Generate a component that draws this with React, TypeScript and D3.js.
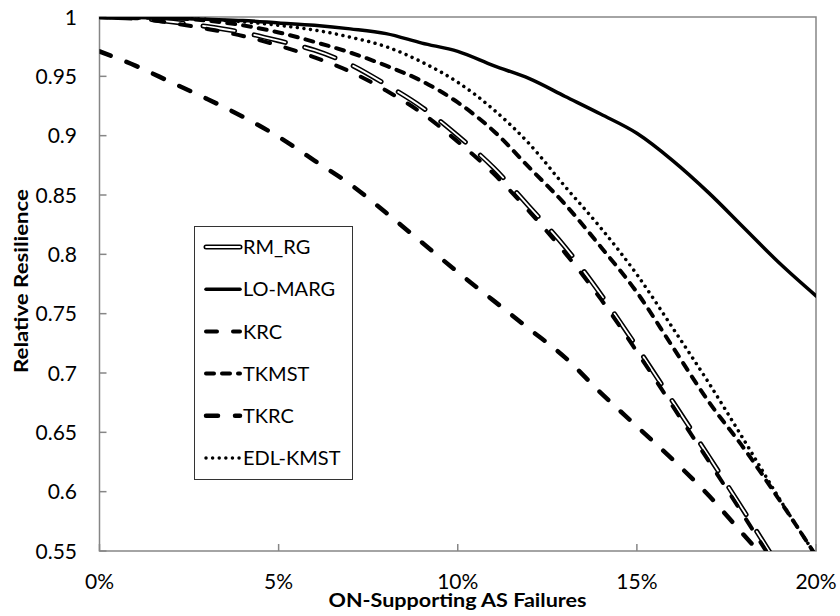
import { useEffect, useRef } from "react";
import * as d3 from "d3";

// failure share in percent
const failurePct = [0, 1, 2, 3, 4, 5, 6, 7, 8, 9, 10, 11, 12, 13, 14, 15, 16, 17, 18, 19, 20];

const rmRg = [1.0, 0.999, 0.996, 0.992, 0.987, 0.98, 0.972, 0.96, 0.943, 0.924, 0.9, 0.873, 0.84, 0.806, 0.766, 0.722, 0.676, 0.63, 0.583, 0.535];
const loMarg = [1.0, 0.9995, 0.999, 0.998, 0.997, 0.995, 0.993, 0.99, 0.986, 0.978, 0.971, 0.959, 0.948, 0.933, 0.918, 0.902, 0.879, 0.852, 0.822, 0.792, 0.765];
const krc = [1.0, 0.999, 0.995, 0.99, 0.984, 0.976, 0.966, 0.954, 0.938, 0.919, 0.895, 0.868, 0.836, 0.801, 0.762, 0.718, 0.672, 0.626, 0.579, 0.531];
const tkmst = [1.0, 0.9995, 0.999, 0.997, 0.993, 0.987, 0.979, 0.97, 0.959, 0.946, 0.928, 0.904, 0.873, 0.842, 0.806, 0.768, 0.722, 0.676, 0.636, 0.592, 0.546];
const tkrc = [0.971, 0.959, 0.945, 0.931, 0.916, 0.899, 0.879, 0.859, 0.835, 0.81, 0.785, 0.761, 0.737, 0.713, 0.683, 0.655, 0.627, 0.597, 0.563, 0.53];
const edlKmst = [1.0, 1.0, 0.9995, 0.998, 0.996, 0.993, 0.989, 0.983, 0.975, 0.962, 0.945, 0.922, 0.893, 0.857, 0.822, 0.783, 0.738, 0.692, 0.643, 0.593, 0.546];

const seriesNames = ["RM_RG", "LO-MARG", "KRC", "TKMST", "TKRC", "EDL-KMST"];
const seriesValues = [rmRg, loMarg, krc, tkmst, tkrc, edlKmst];

const yTicks = [0.55, 0.6, 0.65, 0.7, 0.75, 0.8, 0.85, 0.9, 0.95, 1];
const xTicks = [0, 5, 10, 15, 20];

// line looks, same order as seriesNames
const looks = [
  { w: 5, dash: "32,20", double: true },
  { w: 3.5, dash: null, double: false },
  { w: 4, dash: "11,16", double: false },
  { w: 4, dash: "8,8", double: false },
  { w: 4.5, dash: "12,17", double: false },
  { w: 3.5, dash: "0.01,6.6", double: false },
];

const FONT = "Lato, 'Open Sans', sans-serif";

export default function App() {
  const svgRef = useRef<SVGSVGElement>(null);

  useEffect(() => {
    if (!svgRef.current) return;
    const svg = d3.select(svgRef.current);
    svg.selectAll("*").remove();

    const left = 99.5, right = 816, top = 17, bottom = 551;
    const x = d3.scaleLinear().domain([0, 20]).range([left, right]);
    const y = d3.scaleLinear().domain([0.55, 1]).range([bottom, top]);

    svg.append("clipPath").attr("id", "plot")
      .append("rect").attr("x", left).attr("y", top)
      .attr("width", right - left).attr("height", bottom - top);

    // frame
    svg.append("rect")
      .attr("x", left).attr("y", top)
      .attr("width", right - left).attr("height", bottom - top)
      .attr("fill", "none").attr("stroke", "#868686").attr("stroke-width", 1.5);

    svg.selectAll(".ytick").data(yTicks).join("line")
      .attr("x1", left).attr("x2", left + 7)
      .attr("y1", (d) => y(d)).attr("y2", (d) => y(d))
      .attr("stroke", "#868686").attr("stroke-width", 1.5);

    svg.selectAll(".ylab").data(yTicks).join("text")
      .attr("x", 77).attr("y", (d) => y(d))
      .attr("dy", "0.36em")
      .attr("text-anchor", "end")
      .attr("font-family", FONT).attr("font-size", 21)
      .text((d) => String(d));

    svg.selectAll(".xtick").data(xTicks).join("line")
      .attr("x1", (d) => x(d)).attr("x2", (d) => x(d))
      .attr("y1", bottom).attr("y2", bottom - 7)
      .attr("stroke", "#868686").attr("stroke-width", 1.5);

    svg.selectAll(".xlab").data(xTicks).join("text")
      .attr("x", (d) => x(d)).attr("y", 589)
      .attr("text-anchor", "middle")
      .attr("font-family", FONT).attr("font-size", 21)
      .text((d) => d + "%");

    svg.append("text")
      .attr("x", 457.5).attr("y", 607)
      .attr("text-anchor", "middle")
      .attr("font-family", FONT).attr("font-size", 19).attr("font-weight", "bold")
      .attr("textLength", 258).attr("lengthAdjust", "spacingAndGlyphs")
      .text("ON-Supporting AS Failures");

    svg.append("text")
      .attr("transform", "translate(28,281) rotate(-90)")
      .attr("text-anchor", "middle")
      .attr("font-family", FONT).attr("font-size", 19).attr("font-weight", "bold")
      .attr("textLength", 184).attr("lengthAdjust", "spacingAndGlyphs")
      .text("Relative Resilience");

    const line = d3.line<number>()
      .x((_, i) => x(failurePct[i]))
      .y((d) => y(d))
      .curve(d3.curveMonotoneX);

    const g = svg.append("g").attr("clip-path", "url(#plot)");
    seriesValues.forEach((vals, i) => {
      const lk = looks[i];
      const p = g.append("path")
        .attr("d", line(vals))
        .attr("fill", "none").attr("stroke", "#000")
        .attr("stroke-width", lk.w)
        .attr("stroke-linecap", "round").attr("stroke-linejoin", "round");
      if (lk.dash) p.attr("stroke-dasharray", lk.dash);
      if (lk.double) {
        g.append("path")
          .attr("d", line(vals))
          .attr("fill", "none").attr("stroke", "#fff")
          .attr("stroke-width", 1.8)
          .attr("stroke-linecap", "round").attr("stroke-linejoin", "round")
          .attr("stroke-dasharray", lk.dash);
      }
    });

    // legend
    const lg = svg.append("g");
    lg.append("rect")
      .attr("x", 194.5).attr("y", 226.5).attr("width", 158).attr("height", 253)
      .attr("fill", "#fff").attr("stroke", "#333").attr("stroke-width", 1);
    seriesNames.forEach((name, i) => {
      const cy = 247 + i * 42.2;
      const lk = looks[i];
      const seg = lg.append("line")
        .attr("x1", 206).attr("x2", 240).attr("y1", cy).attr("y2", cy)
        .attr("stroke", "#000").attr("stroke-width", lk.w)
        .attr("stroke-linecap", "round");
      if (lk.dash && !lk.double) seg.attr("stroke-dasharray", lk.dash);
      if (lk.double) {
        lg.append("line")
          .attr("x1", 206).attr("x2", 240).attr("y1", cy).attr("y2", cy)
          .attr("stroke", "#fff").attr("stroke-width", 1.8)
          .attr("stroke-linecap", "round");
      }
      lg.append("text")
        .attr("x", 243).attr("y", cy).attr("dy", "0.36em")
        .attr("font-family", FONT).attr("font-size", 20)
        .text(name);
    });
  }, []);

  return (
    <svg ref={svgRef} width={840} height={616}
      style={{ position: "absolute", left: 0, top: 0, background: "#fff" }} />
  );
}
